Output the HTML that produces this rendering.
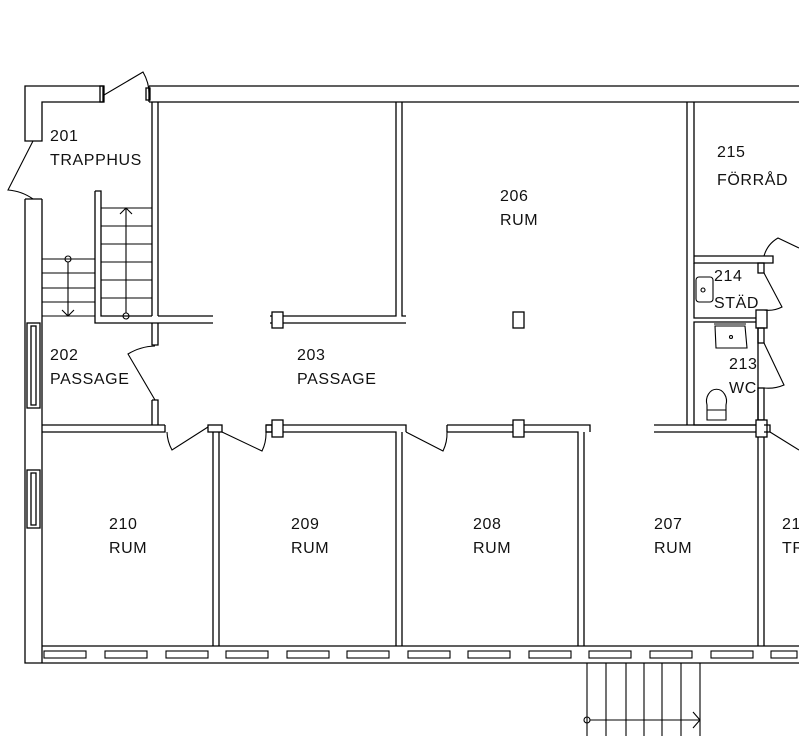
<!DOCTYPE html>
<html><head><meta charset="utf-8"><style>
html,body{margin:0;padding:0;background:#fff}
svg{display:block}
text{font-family:"Liberation Sans",sans-serif;font-size:16px;fill:#111;letter-spacing:0.6px}
</style></head><body>
<svg width="799" height="736" viewBox="0 0 799 736" xmlns="http://www.w3.org/2000/svg">
<g fill="none" stroke="#000" stroke-width="1.3">
<!-- top wall -->
<path d="M149 86 H799 M149 102 H799 M149 86 V102"/>
<path d="M25 86 H103 V102 H42 V141 H25 Z"/>
<rect x="100" y="86" width="4" height="16"/>
<rect x="146" y="88" width="4" height="12"/>
<!-- left wall -->
<path d="M25 199 V663 H799 M42 199 V663 M25 199 H42"/>
<rect x="27" y="323" width="13" height="85"/><rect x="31" y="326" width="5" height="79"/>
<rect x="27" y="470" width="13" height="58"/><rect x="31" y="473" width="5" height="52"/>
<!-- interior vertical x152 -->
<path d="M152 102 V316 M158 102 V316"/>
<path d="M152 323 V345 H158 V323"/>
<path d="M152 400 H158 V425 M152 400 V425"/>
<!-- stair box -->
<path d="M95 191 H101 V316 H152 M95 191 V323 H213 M158 316 H213"/>
<!-- wall 203/206 -->
<path d="M270 316 H396 V102 M270 323 H406 M402 102 V316 H406"/>
<rect x="272" y="312" width="11" height="16" fill="#fff"/>
<rect x="513" y="312" width="11" height="16" fill="#fff"/>
<!-- corridor lower wall -->
<path d="M42 425 H165 M42 432 H165 V425"/>
<rect x="208" y="425" width="14" height="7"/>
<path d="M213 432 V646 M219 432 V646"/>
<path d="M266 425 H406 V432 M266 432 H396 V646 M402 432 V646"/>
<rect x="266" y="425" width="6" height="7"/>
<rect x="272" y="420" width="11" height="17" fill="#fff"/>
<path d="M447 425 H590 V432 M447 432 H578 V646 M584 432 V646 M447 425 V432"/>
<rect x="513" y="420" width="11" height="17" fill="#fff"/>
<!-- right core -->
<path d="M654 425 H758 M654 432 H758"/>
<path d="M687 102 V425 M694 102 V256 H773 V263 H694 Z"/>
<path d="M694 263 V318 H758 M694 322 H758 V425 H694 Z"/>
<rect x="758" y="263" width="6" height="10"/>
<rect x="756" y="310" width="11" height="18" fill="#fff"/>
<rect x="758" y="328" width="6" height="15"/>
<rect x="758" y="388" width="6" height="32"/>
<rect x="756" y="420" width="11" height="17" fill="#fff"/>
<path d="M758 437 V646 M764 437 V646"/>
<path d="M764 425 H770 V432 H764"/>
<path d="M42 646 H799"/>
</g>
<g fill="none" stroke="#000" stroke-width="1.1">
<!-- door swings -->
<path d="M104 95 L143 72 A45 45 0 0 1 149 98"/>
<path d="M33 141 L8 190 A50 50 0 0 1 33 199"/>
<path d="M155 346 A55 55 0 0 0 128 354 L155 400"/>
<path d="M167 432 A40 40 0 0 0 172 450 L208 427"/>
<path d="M222 432 L262 451 A40 40 0 0 0 266 432"/>
<path d="M406 432 L443 451 A40 40 0 0 0 447 432"/>
<path d="M764 256 A30 30 0 0 1 778 238 L799 248"/>
<path d="M764 273 L782 307 A30 30 0 0 1 764 310"/>
<path d="M764 343 L784 385 A40 40 0 0 1 764 388"/>
<path d="M770 432 L799 450"/>
<!-- stairs -->
<path d="M101 208 H152 M101 226 H152 M101 244 H152 M101 262 H152 M101 280 H152 M101 298 H152"/>
<path d="M126 313 V208 M120 214 L126 208 L132 214"/>
<circle cx="126" cy="316" r="3"/>
<path d="M42 259 H95 M42 273 H95 M42 288 H95 M42 302 H95 M42 316 H95"/>
<path d="M68 262 V316 M62 310 L68 316 L74 310"/>
<circle cx="68" cy="259" r="3"/>
<path d="M587 663 V736 M606 663 V736 M626 663 V736 M644 663 V736 M662 663 V736 M681 663 V736 M700 663 V736"/>
<path d="M590 720 H700 M693 712 L700 720 L693 728"/>
<circle cx="587" cy="720" r="3"/>
<!-- fixtures -->
<rect x="696" y="277" width="17" height="25" rx="3"/>
<circle cx="703" cy="290" r="2"/>
<path d="M715 326 H745 L747 348 H716 Z M714 324 H746"/>
<circle cx="731" cy="337" r="1.5"/>
<path d="M707 405 A10 12 0 1 1 726 405 V420 H707 Z M707 410 H726"/>
</g>
<!-- bottom window strip -->
<g fill="#fff" stroke="#000" stroke-width="1.1">
<rect x="44" y="651" width="42" height="7"/><rect x="105" y="651" width="42" height="7"/>
<rect x="166" y="651" width="42" height="7"/><rect x="226" y="651" width="42" height="7"/>
<rect x="287" y="651" width="42" height="7"/><rect x="347" y="651" width="42" height="7"/>
<rect x="408" y="651" width="42" height="7"/><rect x="468" y="651" width="42" height="7"/>
<rect x="529" y="651" width="42" height="7"/><rect x="589" y="651" width="42" height="7"/>
<rect x="650" y="651" width="42" height="7"/><rect x="711" y="651" width="42" height="7"/>
<rect x="771" y="651" width="26" height="7"/>
</g>
<g>
<text x="50" y="141">201</text><text x="50" y="165">TRAPPHUS</text>
<text x="50" y="360">202</text><text x="50" y="384">PASSAGE</text>
<text x="297" y="360">203</text><text x="297" y="384">PASSAGE</text>
<text x="500" y="201">206</text><text x="500" y="225">RUM</text>
<text x="717" y="157">215</text><text x="717" y="185">FÖRRÅD</text>
<text x="714" y="281">214</text><text x="714" y="308">STÄD</text>
<text x="729" y="369">213</text><text x="729" y="393">WC</text>
<text x="109" y="529">210</text><text x="109" y="553">RUM</text>
<text x="291" y="529">209</text><text x="291" y="553">RUM</text>
<text x="473" y="529">208</text><text x="473" y="553">RUM</text>
<text x="654" y="529">207</text><text x="654" y="553">RUM</text>
<text x="782" y="529">21</text><text x="782" y="553">TR</text>
</g>
</svg>
</body></html>
